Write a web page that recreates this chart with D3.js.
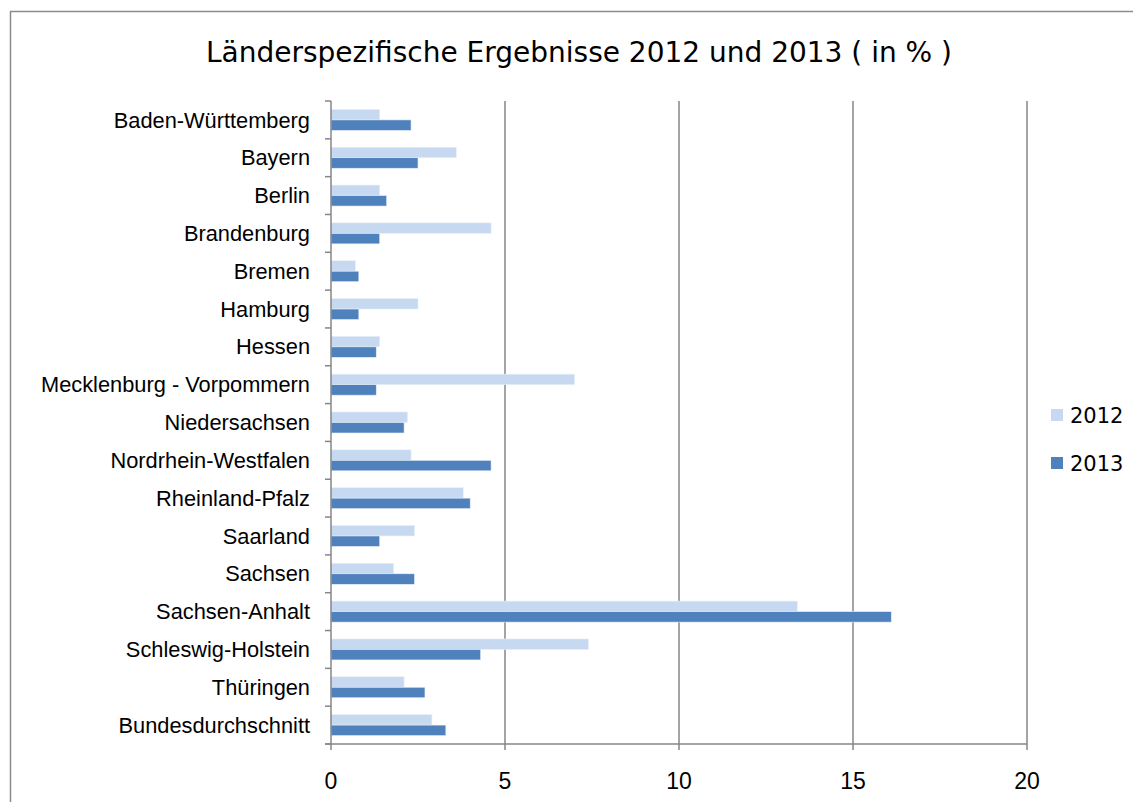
<!DOCTYPE html>
<html><head><meta charset="utf-8">
<script src="https://cdn.jsdelivr.net/npm/d3@7"></script>
<style>body{margin:0;background:#fff}svg{display:block}</style>
</head><body>
<svg id="c" width="1133" height="802"></svg>
<script>
const categories = ["Baden-Württemberg","Bayern","Berlin","Brandenburg","Bremen","Hamburg","Hessen","Mecklenburg - Vorpommern","Niedersachsen","Nordrhein-Westfalen","Rheinland-Pfalz","Saarland","Sachsen","Sachsen-Anhalt","Schleswig-Holstein","Thüringen","Bundesdurchschnitt"];
const values2012 = [1.4,3.6,1.4,4.6,0.7,2.5,1.4,7.0,2.2,2.3,3.8,2.4,1.8,13.4,7.4,2.1,2.9];
const values2013 = [2.3,2.5,1.6,1.4,0.8,0.8,1.3,1.3,2.1,4.6,4.0,1.4,2.4,16.1,4.3,2.7,3.3];
const seriesNames = ["2012","2013"];
const xTicks = [0,5,10,15,20];
const title = "Länderspezifische Ergebnisse 2012 und 2013 ( in % )";

const colors = ["#c6d9f1","#4f81bd"];
const svg = d3.select("#c");
const font = "'Liberation Sans',Arial,sans-serif";
const pL = 331, pR = 1027, pT = 101, pB = 744;

svg.append("rect").attr("x",10.5).attr("y",11.5).attr("width",1140).attr("height",820)
  .attr("fill","none").attr("stroke","#8c8c8c").attr("stroke-width",1.5);

svg.append("text").attr("x",579).attr("y",62).attr("text-anchor","middle")
  .style("font-family","'DejaVu Sans',sans-serif").style("font-size","28px").attr("fill","#000").text(title);

const x = d3.scaleLinear().domain([0,20]).range([pL,pR]);
const y = d3.scaleBand().domain(categories).range([pT,pB]).paddingInner(0.445).paddingOuter(0.2225);
const sub = d3.scaleBand().domain(seriesNames).range([0,y.bandwidth()]);

svg.append("g").selectAll("line").data(xTicks.slice(1)).join("line")
  .attr("x1",d=>x(d)).attr("x2",d=>x(d)).attr("y1",pT).attr("y2",pB+6)
  .attr("stroke","#868686").attr("stroke-width",1.5);

const data = categories.map((c,i)=>({c, v:[values2012[i],values2013[i]]}));
const g = svg.append("g");
data.forEach(d=>{
  seriesNames.forEach((s,j)=>{
    g.append("rect").attr("x",x(0)).attr("y",y(d.c)+sub(s))
     .attr("width",x(d.v[j])-x(0)).attr("height",sub.bandwidth())
     .attr("fill",colors[j]).attr("stroke","#e8eef8").attr("stroke-width",0.6);
  });
});

const yTickPos = d3.range(categories.length+1).map(i=>pT + i*(pB-pT)/categories.length);
svg.append("line").attr("x1",pL).attr("x2",pL).attr("y1",pT).attr("y2",pB+6).attr("stroke","#868686").attr("stroke-width",1.5);
svg.append("g").selectAll("line").data(yTickPos).join("line")
  .attr("x1",pL-6).attr("x2",pL).attr("y1",d=>d).attr("y2",d=>d).attr("stroke","#868686").attr("stroke-width",1.5);
svg.append("g").selectAll("text").data(categories).join("text")
  .attr("x",pL-21).attr("y",d=>y(d)+y.bandwidth()/2).attr("dy","0.35em")
  .attr("text-anchor","end").style("font-family",font).style("font-size","21.8px").text(d=>d);

svg.append("line").attr("x1",pL-6).attr("x2",pR).attr("y1",pB).attr("y2",pB).attr("stroke","#868686").attr("stroke-width",1.5);
svg.append("g").selectAll("text").data(xTicks).join("text")
  .attr("x",d=>x(d)).attr("y",789).attr("text-anchor","middle")
  .style("font-family",font).style("font-size","23px").text(d=>d);

const lg = svg.append("g");
seriesNames.forEach((s,j)=>{
  lg.append("rect").attr("x",1051).attr("y",409+j*48).attr("width",12).attr("height",12).attr("fill",colors[j]);
  lg.append("text").attr("x",1070).attr("y",416+j*48).attr("dy","0.35em")
    .style("font-family","'DejaVu Sans',sans-serif").style("font-size","21px").text(s);
});
</script>
</body></html>
